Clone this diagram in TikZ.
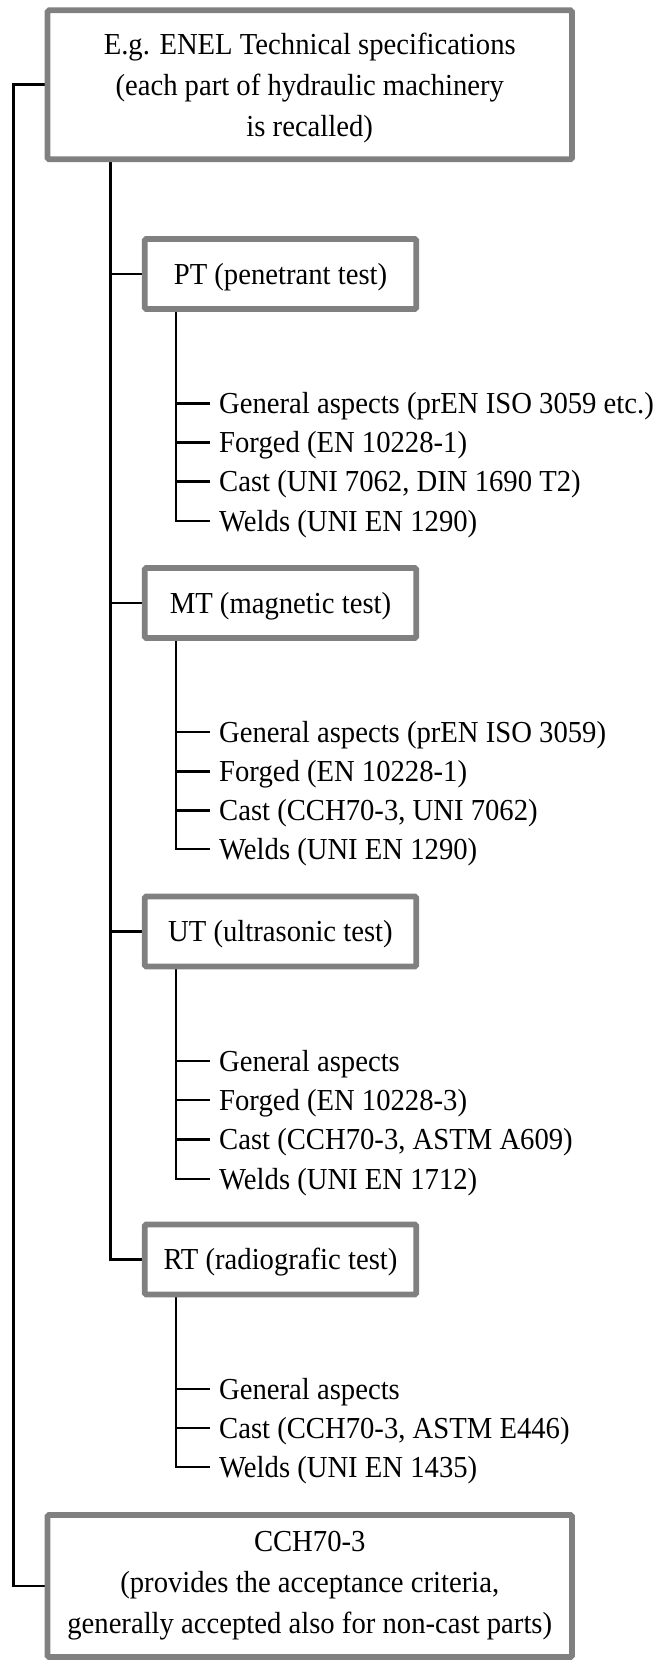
\documentclass[tikz,border=0pt]{standalone}
\usepackage{fontspec}
\setmainfont[FakeStretch=0.94]{Liberation Serif}
\usepackage{xcolor}
\usetikzlibrary{positioning,backgrounds}
\definecolor{boxgray}{RGB}{128,128,128}

\begin{document}
\begin{tikzpicture}[
  x=1pt, y=-1pt,
  every node/.style={font=\fontsize{30.5}{41}\selectfont},
  specbox/.style={draw=boxgray, line width=5.7pt, rounded corners=1.5pt,
    fill=white, minimum width=524.5pt, align=center, inner sep=0pt},
  testbox/.style={draw=boxgray, line width=5.7pt, rounded corners=1.5pt,
    fill=white, minimum width=271.6pt, minimum height=70pt,
    text height=20pt, text depth=0pt, inner sep=0pt},
  item/.style={anchor=west, inner xsep=9pt, inner ysep=0pt,
    text height=20pt, text depth=0pt},
  link/.style={line width=2.8pt},
]
\useasboundingbox (0,0) rectangle (668,1662);

\node[specbox, minimum height=149pt] (spec) at (309.75,84.8)
  {\rule{0pt}{28pt}E.g. ENEL Technical specifications \\ (each part of hydraulic machinery \\ is recalled)};

\node[testbox] (pt) at (280.5,274)    {PT (penetrant test)};
\node[testbox] (mt) at (280.5,603)    {MT (magnetic test)};
\node[testbox] (ut) at (280.5,931.5)  {UT (ultrasonic test)};
\node[testbox] (rt) at (280.5,1259.5) {RT (radiografic test)};

\node[specbox, minimum height=142pt] (cch) at (309.75,1586)
  {CCH70-3 \\ (provides the acceptance criteria, \\ generally accepted also for non-cast parts)};

% standards under each test
\node[item] (pt1) at (210,403.3) {General aspects (prEN ISO 3059 etc.)};
\node[item] (pt2) at (210,442.5) {Forged (EN 10228-1)};
\node[item] (pt3) at (210,481.7) {Cast (UNI 7062, DIN 1690 T2)};
\node[item] (pt4) at (210,521)   {Welds (UNI EN 1290)};

\node[item] (mt1) at (210,732)   {General aspects (prEN ISO 3059)};
\node[item] (mt2) at (210,771.5) {Forged (EN 10228-1)};
\node[item] (mt3) at (210,810.5) {Cast (CCH70-3, UNI 7062)};
\node[item] (mt4) at (210,849)   {Welds (UNI EN 1290)};

\node[item] (ut1) at (210,1061)  {General aspects};
\node[item] (ut2) at (210,1100)  {Forged (EN 10228-3)};
\node[item] (ut3) at (210,1139.3){Cast (CCH70-3, ASTM A609)};
\node[item] (ut4) at (210,1179)  {Welds (UNI EN 1712)};

\node[item] (rt1) at (210,1389)  {General aspects};
\node[item] (rt2) at (210,1428)  {Cast (CCH70-3, ASTM E446)};
\node[item] (rt3) at (210,1467)  {Welds (UNI EN 1435)};

\coordinate (rail)  at (13.3,0);
\coordinate (trunk) at (110.7,0);
\coordinate (sub)   at (176,0);

\begin{scope}[on background layer]
% outer rail and main trunk
\draw[link] (spec.west) -- (rail |- spec.west) |- (cch.west);
\draw[link] (trunk |- spec.south) |- (rt.west);
\foreach \t in {pt,mt,ut}
  \draw[link] (trunk |- \t.west) -- (\t.west);

% branches to the standards
\draw[link] (sub |- pt.south) |- (pt4.west);
\draw[link] (sub |- mt.south) |- (mt4.west);
\draw[link] (sub |- ut.south) |- (ut4.west);
\draw[link] (sub |- rt.south) |- (rt3.west);
\foreach \i in {pt1,pt2,pt3,mt1,mt2,mt3,ut1,ut2,ut3,rt1,rt2}
  \draw[link] (sub |- \i.west) -- (\i.west);
\end{scope}
\end{tikzpicture}
\end{document}
